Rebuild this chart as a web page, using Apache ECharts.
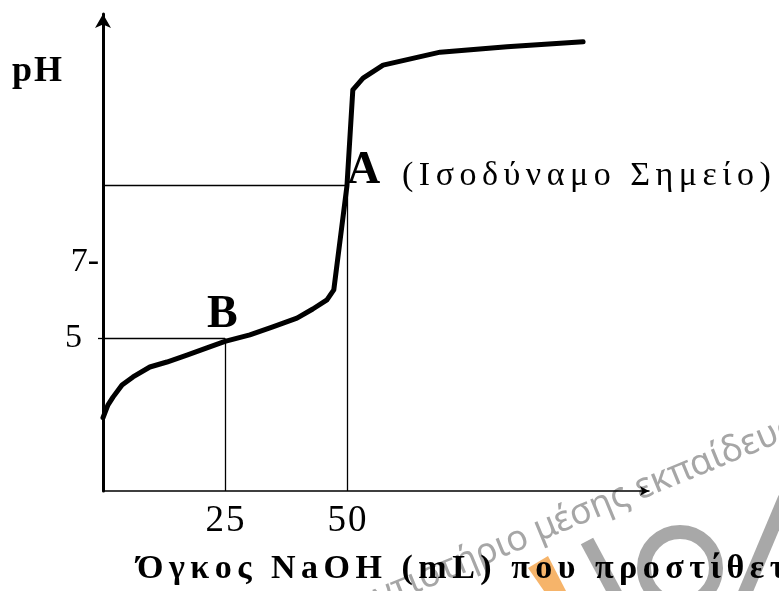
<!DOCTYPE html>
<html>
<head>
<meta charset="utf-8">
<script src="https://cdn.jsdelivr.net/npm/echarts@6/dist/echarts.min.js"></script>
<style>
  html, body { margin: 0; padding: 0; background: #fff; }
  #chart { width: 779px; height: 591px; }
</style>
</head>
<body>
<div id="chart"></div>
<script>
// titration curve (mL NaOH, pH)
const volume = [0, 1.0, 2.05, 3.9, 6.15, 9.6, 13.1, 17.2, 21.3, 25, 30.1, 34.8, 39.75, 43.0, 45.9, 47.3, 50, 51.2, 53.3, 57.4, 69.1, 82.8, 98.4];
const ph = [2.92, 3.25, 3.46, 3.78, 3.99, 4.25, 4.38, 4.56, 4.75, 4.92, 5.09, 5.30, 5.53, 5.77, 6.01, 6.27, 9.0, 11.51, 11.82, 12.16, 12.5, 12.64, 12.77];

const equivalencePoint = [50, 9];   // A
const halfPoint = [25, 5];          // B
const xTickValues = [25, 50];
const yTickValues = [5, 7];

const SERIF = '"Liberation Serif", "Times New Roman", serif';

// zrender has no letter-spacing, so every glyph gets its own rich token
function spaced(str, style) {
    return str.split('').map(c => '{' + style + '|' + c + '}').join('');
}

const chart = echarts.init(document.getElementById('chart'));

const thin = {color: '#000', width: 1.3, type: 'solid'};

const option = {
    backgroundColor: '#fff',
    animation: false,
    grid: {left: 103, right: 130, top: 14, bottom: 100},
    xAxis: {
        type: 'value',
        min: 0,
        max: 111.9,
        splitLine: {show: false},
        axisLine: {
            onZero: false,
            lineStyle: {color: '#000', width: 1.5},
            symbol: ['none', 'arrow'],
            symbolSize: [7, 9]
        },
        axisTick: {show: false},
        axisLabel: {
            customValues: xTickValues,
            margin: 12,
            formatter: v => spaced(String(v), 'd'),
            rich: {
                d: {fontFamily: SERIF, fontSize: 37, color: '#000', padding: [0, 1, 0, 1]}
            }
        }
    },
    yAxis: {
        type: 'value',
        min: 1,
        max: 13.5,
        interval: 1,
        splitLine: {show: false},
        axisLine: {
            onZero: false,
            lineStyle: {color: '#000', width: 3},
            symbol: ['none', 'arrow'],
            symbolSize: [12, 14]
        },
        axisTick: {
            customValues: [halfPoint[1]],
            length: 5,
            lineStyle: {color: '#000', width: 1.3}
        },
        axisLabel: {
            customValues: yTickValues,
            margin: 4,
            formatter: v => v === 5 ? '{p|5}' : '{n|7-}',
            rich: {
                p: {fontFamily: SERIF, fontSize: 34, color: '#000', padding: [0, 17, 0, 0]},
                n: {fontFamily: SERIF, fontSize: 34, color: '#000'}
            }
        }
    },
    series: [{
        type: 'line',
        data: volume.map((v, i) => [v, ph[i]]),
        symbol: 'none',
        z: 5,
        lineStyle: {color: '#000', width: 5, join: 'round', cap: 'round'},
        markLine: {
            silent: true,
            symbol: 'none',
            label: {show: false},
            lineStyle: thin,
            data: [
                [{coord: [0, equivalencePoint[1]]}, {coord: equivalencePoint}],
                [{coord: [equivalencePoint[0], 1]}, {coord: equivalencePoint}],
                [{coord: [0, halfPoint[1]]}, {coord: halfPoint}],
                [{coord: [halfPoint[0], 1]}, {coord: halfPoint}]
            ]
        }
    }],
    graphic: [
        // watermark bits (under everything)
        {type: 'polygon', z: -10, shape: {points: [[528, 568], [548, 556], [566, 591], [544, 591]]}, style: {fill: '#f6b46a'}},
        {type: 'circle', z: -10, shape: {cx: 680, cy: 568, r: 36}, style: {fill: 'none', stroke: '#a8a8a8', lineWidth: 14}},
        {type: 'line', z: -10, shape: {x1: 587, y1: 541, x2: 616, y2: 595}, style: {stroke: '#a8a8a8', lineWidth: 14}},
        {type: 'line', z: -10, shape: {x1: 742, y1: 600, x2: 785, y2: 498}, style: {stroke: '#a8a8a8', lineWidth: 14}},
        {type: 'text', z: -9, x: 535, y: 532, rotation: 0.39,
            style: {text: 'μέσης εκπαίδευσης', fill: '#a6a6a6', font: '36px "Noto Sans", sans-serif', align: 'left', verticalAlign: 'middle'}},
        {type: 'text', z: -9, x: 527, y: 536, rotation: 0.39,
            style: {text: 'Φροντιστήριο', fill: '#a6a6a6', font: '36px "Noto Sans", sans-serif', align: 'right', verticalAlign: 'middle'}},

        {type: 'text', left: 12, top: 54,
            style: {text: spaced('pH', 'h'), rich: {h: {fontFamily: SERIF, fontWeight: 'bold', fontSize: 36, fill: '#000', padding: [0, 1, 0, 1]}}}},
        {type: 'text', x: 347, y: 171,
            style: {text: 'A', font: 'bold 46px ' + SERIF, fill: '#000', align: 'left', verticalAlign: 'middle'}},
        {type: 'text', x: 402, y: 176,
            style: {text: spaced('(Ισοδύναμο Σημείο)', 's'), align: 'left', verticalAlign: 'middle',
                rich: {s: {fontFamily: SERIF, fontSize: 34, fill: '#000', padding: [0, 5.5, 0, 0]}}}},
        {type: 'text', x: 207, y: 315,
            style: {text: 'B', font: 'bold 46px ' + SERIF, fill: '#000', align: 'left', verticalAlign: 'middle'}},
        {type: 'text', x: 137, y: 569,
            style: {text: spaced('Όγκος NaOH (mL) που προστίθεται', 't'), align: 'left', verticalAlign: 'middle',
                rich: {t: {fontFamily: SERIF, fontWeight: 'bold', fontSize: 34, fill: '#000', padding: [0, 5.5, 0, 0]}}}}
    ]
};

chart.setOption(option);
</script>
</body>
</html>
